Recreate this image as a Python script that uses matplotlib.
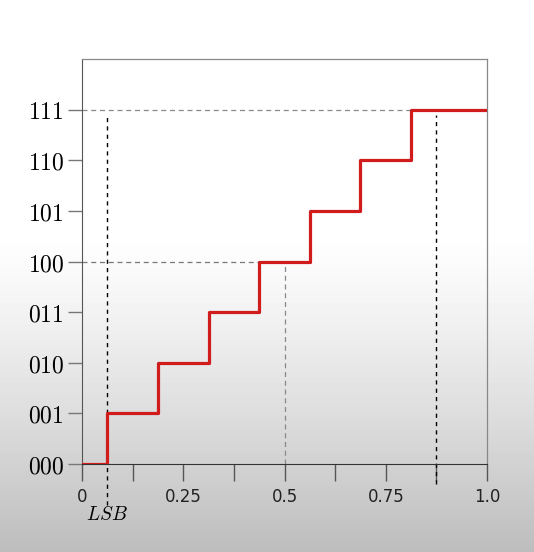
import numpy as np
import matplotlib
matplotlib.use("Agg")
import matplotlib.pyplot as plt

plt.rcParams['mathtext.fontset'] = 'cm'

# quantizer transfer curve (3-bit, mid-tread)
edges = [0.0, 0.0625, 0.1875, 0.3125, 0.4375, 0.5625, 0.6875, 0.8125, 1.0]
codes = [0, 1, 2, 3, 4, 5, 6, 7, 7]
code_labels = ['000', '001', '010', '011', '100', '101', '110', '111']
xtick_pos = [0, 0.125, 0.25, 0.375, 0.5, 0.625, 0.75, 0.875, 1.0]
xtick_labels = ['0', '', '0.25', '', '0.5', '', '0.75', '', '1.0']
lsb = 0.0625
full_scale = 0.875

fig = plt.figure(figsize=(5.34, 5.52), dpi=100)

# background: white on top, fading smoothly to grey at the bottom
bg = fig.add_axes([0, 0, 1, 1], zorder=-10)
rows = np.linspace(0, 1, 552)
fade = np.clip((rows - 0.42) / 0.58, 0, 1)
shade = 1.0 - 0.26 * fade ** 1.2
bg.imshow(np.repeat(shade[:, None], 2, axis=1), cmap='gray', vmin=0, vmax=1,
          aspect='auto', extent=[0, 1, 0, 1], origin='upper')
bg.axis('off')

ax = fig.add_axes([0.1536, 0.1594, 0.7584, 0.7337])
ax.patch.set_alpha(0)

ax.step(edges, codes, where='post', color='#d01c1c', lw=2.3, zorder=5)

# guide lines
ax.plot([0, edges[7]], [7, 7], ls=(0, (4, 3)), color='#888888', lw=0.9)
ax.plot([0, edges[4]], [4, 4], ls=(0, (4, 3)), color='#777777', lw=0.9)
ax.plot([0.5, 0.5], [0, 4], ls=(0, (4, 3)), color='#888888', lw=0.9)
ax.plot([lsb, lsb], [-0.8, 6.9], ls=(0, (3, 3)), color='black', lw=1.0,
        clip_on=False)
ax.plot([full_scale, full_scale], [-0.4, 6.9], ls=(0, (3, 3)), color='black',
        lw=1.0, clip_on=False)

ax.set_xlim(0, 1)
ax.set_ylim(0, 8)
ax.set_yticks(range(8))
ax.set_yticklabels([r'$\mathrm{%s}$' % s for s in code_labels], fontsize=17)
ax.set_xticks(xtick_pos)
ax.set_xticklabels(xtick_labels, fontsize=12, color='#222222')

ax.tick_params(axis='y', length=10, width=1, color='#777777', pad=3)
ax.tick_params(axis='x', length=12, width=1, color='#555555', pad=5)

for side in ['top', 'right']:
    ax.spines[side].set_color('#888888')
    ax.spines[side].set_linewidth(0.9)
ax.spines['left'].set_color('#555555')
ax.spines['bottom'].set_color('#333333')

ax.text(lsb, -1.0, r'$LSB$', ha='center', va='center', fontsize=14,
        clip_on=False)

fig.savefig('out.png', dpi=100)
